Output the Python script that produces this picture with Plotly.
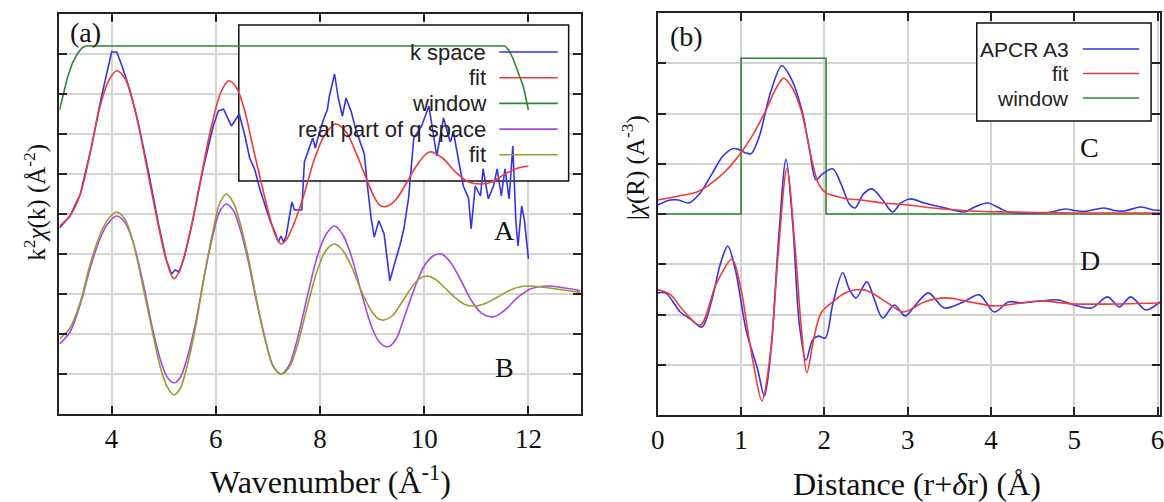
import plotly.graph_objects as go

# ---------------- data: panel (a) ----------------
k_window = [3.0, 3.08, 3.15, 3.25, 3.35, 3.43, 3.5, 11.55, 11.62, 11.7, 11.76, 11.83, 11.9, 12.0]
window_a = [7.6, 8.05, 8.4, 8.78, 9.02, 9.15, 9.2, 9.2, 9.1, 8.9, 8.7, 8.45, 8.2, 7.6]

k_blue = [3.0, 3.2, 3.4, 3.6, 3.8, 3.95, 4.0, 4.1, 4.2, 4.35, 4.5, 4.7, 4.9, 5.05, 5.15, 5.22, 5.3,
          5.4, 5.55, 5.75, 5.95, 6.05, 6.15, 6.3, 6.4, 6.45, 6.55, 6.65, 6.75, 6.85, 6.95, 7.05,
          7.15, 7.2, 7.25, 7.3, 7.35, 7.46, 7.51, 7.65, 7.7, 7.86, 7.91, 7.99, 8.09, 8.14, 8.18,
          8.28, 8.35, 8.43, 8.5, 8.6, 8.69, 8.77, 8.85, 8.9, 8.98, 9.04, 9.13, 9.23, 9.34, 9.44,
          9.53, 9.61, 9.7, 9.8, 9.95, 10.09, 10.24, 10.37, 10.5, 10.56, 10.75, 10.85, 10.9,
          10.98, 11.08, 11.13, 11.23, 11.33, 11.4, 11.48, 11.55, 11.63, 11.7, 11.76, 11.8,
          11.87, 11.92, 12.0]
a_blue = [4.65, 4.95, 5.5, 6.6, 7.9, 8.8, 9.05, 9.05, 8.7, 8.1, 7.35, 6.1, 4.75, 3.85, 3.5, 3.6, 3.55,
          3.95, 4.8, 6.1, 7.2, 7.58, 7.62, 7.2, 7.4, 7.5, 7.0, 6.4, 6.1, 5.6, 5.2, 4.8,
          4.5, 4.3, 4.45, 4.3, 4.45, 5.3, 5.1, 5.1, 6.3, 6.9, 6.65, 7.05, 7.45, 7.6, 7.95,
          8.5, 7.9, 7.45, 7.9, 7.55, 7.1, 6.8, 6.5, 5.83, 4.9, 4.42, 4.83, 4.5, 3.33, 3.8,
          4.2, 4.63, 5.4, 6.9, 7.2, 7.7, 6.45, 7.4, 6.8, 7.05, 5.7, 5.4, 4.63,
          5.7, 5.45, 6.13, 5.38, 5.7, 6.13, 5.45, 6.13, 5.38, 6.7, 4.8, 4.2,
          5.2, 4.88, 3.88]

k_fit = [3.0, 3.2, 3.4, 3.6, 3.8, 3.95, 4.1, 4.25, 4.4, 4.55, 4.7, 4.9, 5.05, 5.2, 5.35, 5.5, 5.7,
         5.9, 6.1, 6.25, 6.4, 6.55, 6.7, 6.85, 7.05, 7.15, 7.25, 7.35, 7.45, 7.65, 7.9, 8.1, 8.3,
         8.5, 8.7, 8.9, 9.05, 9.17, 9.3, 9.45, 9.65, 9.85, 10.1, 10.35, 10.6, 10.85, 11.08, 11.3,
         11.55, 11.8, 12.0]
a_fit = [4.7, 4.95, 5.5, 6.6, 7.8, 8.35, 8.58, 8.4, 7.85, 7.0, 6.0, 4.7, 3.85, 3.38, 3.75, 4.5, 5.8,
         7.1, 8.05, 8.33, 8.15, 7.6, 6.75, 5.9, 4.85, 4.45, 4.25, 4.35, 4.6, 5.3, 6.4, 7.0, 7.25,
         7.05, 6.5, 5.85, 5.4, 5.2, 5.2, 5.35, 5.75, 6.2, 6.55, 6.4, 6.05, 5.8, 5.75, 5.8,
         6.0, 6.15, 6.2]

k_q = [3.0, 3.2, 3.4, 3.6, 3.8, 3.95, 4.1, 4.25, 4.4, 4.6, 4.8, 4.95, 5.08, 5.2, 5.32, 5.45, 5.6,
       5.8, 5.95, 6.07, 6.2, 6.33, 6.45, 6.6, 6.8, 6.97, 7.1, 7.25, 7.4, 7.55, 7.75, 7.95, 8.12,
       8.28, 8.43, 8.6, 8.8, 9.0, 9.15, 9.3, 9.45, 9.6, 9.8, 10.0, 10.17, 10.33, 10.5, 10.7,
       10.9, 11.1, 11.33, 11.55, 11.8, 12.05, 12.33, 12.7, 13.0]
b_real = [1.75, 2.05, 2.75, 3.7, 4.45, 4.8, 4.95, 4.8, 4.35, 3.3, 2.05, 1.3, 0.9, 0.78, 0.92, 1.4, 2.2,
          3.6, 4.5, 5.05, 5.25, 5.1, 4.7, 3.95, 2.7, 1.75, 1.2, 1.0, 1.2, 1.8, 2.9, 3.95, 4.5,
          4.7, 4.5, 3.95, 3.0, 2.15, 1.78, 1.68, 1.85, 2.35, 3.1, 3.7, 3.95, 4.0, 3.8, 3.35,
          2.85, 2.52, 2.43, 2.6, 2.92, 3.13, 3.2, 3.15, 3.08]

k_qfit = [3.0, 3.2, 3.4, 3.6, 3.8, 3.95, 4.1, 4.25, 4.4, 4.6, 4.8, 4.95, 5.08, 5.2, 5.32, 5.45, 5.6,
          5.8, 5.95, 6.07, 6.2, 6.33, 6.45, 6.6, 6.8, 6.97, 7.1, 7.25, 7.4, 7.55, 7.75, 7.95, 8.12,
          8.28, 8.43, 8.6, 8.8, 9.0, 9.12, 9.23, 9.38, 9.55, 9.75, 9.9, 10.05, 10.2, 10.4, 10.6,
          10.78, 10.95, 11.15, 11.4, 11.65, 11.85, 12.0, 12.4, 13.0]
b_fit = [1.88, 2.15, 2.8, 3.8, 4.55, 4.9, 5.05, 4.88, 4.35, 3.2, 1.95, 1.1, 0.65, 0.48, 0.65, 1.2, 2.1,
         3.6, 4.6, 5.25, 5.5, 5.3, 4.85, 4.05, 2.75, 1.75, 1.2, 1.0, 1.15, 1.65, 2.65, 3.6, 4.1,
         4.25, 4.1, 3.7, 3.05, 2.55, 2.38, 2.35, 2.45, 2.75, 3.15, 3.38, 3.45, 3.38, 3.15, 2.9,
         2.74, 2.7, 2.75, 2.92, 3.1, 3.18, 3.2, 3.15, 3.04]

# ---------------- data: panel (b) ----------------
r_magn = [0.0, 0.15, 0.25, 0.37, 0.5, 0.65, 0.78, 0.9, 0.98, 1.05, 1.12, 1.22, 1.35, 1.49, 1.6, 1.73,
          1.82, 1.9, 1.98, 2.1, 2.2, 2.3, 2.37, 2.47, 2.57, 2.7, 2.82, 2.92, 3.03, 3.2, 3.45, 3.67,
          3.82, 3.96, 4.1, 4.21, 4.45, 4.69, 4.89, 5.0, 5.12, 5.36, 5.48, 5.6, 5.8, 5.95, 6.03]
c_magn = [4.18, 4.28, 4.28, 4.22, 4.4, 4.8, 5.15, 5.3, 5.28, 5.22, 5.2, 5.55, 6.4, 6.95, 6.7, 6.07,
          5.3, 4.68, 4.8, 4.9, 4.6, 4.2, 4.12, 4.4, 4.5, 4.28, 4.04, 4.22, 4.3, 4.22, 4.12, 4.04,
          4.15, 4.22, 4.12, 4.04, 4.02, 4.03, 4.1, 4.07, 4.05, 4.12, 4.07, 4.06, 4.14, 4.08, 4.07]

r_magn_fit = [0.0, 0.25, 0.47, 0.65, 0.83, 1.02, 1.15, 1.3, 1.42, 1.51, 1.6, 1.72, 1.85, 1.93, 2.02,
              2.15, 2.28, 2.44, 2.7, 3.0, 3.3, 3.59, 3.9, 4.18, 4.6, 5.0, 6.03]
c_magn_fit = [4.28, 4.36, 4.44, 4.62, 4.88, 5.27, 5.6, 6.07, 6.5, 6.7, 6.55, 6.07, 5.07, 4.6, 4.42,
              4.35, 4.3, 4.28, 4.22, 4.18, 4.12, 4.08, 4.05, 4.04, 4.03, 4.02, 4.02]

r_window = [0.0, 1.0, 1.0, 2.02, 2.02, 6.03]
c_window = [4.0, 4.0, 7.1, 7.1, 4.0, 4.0]

r_real = [0.0, 0.1, 0.27, 0.4, 0.53, 0.65, 0.75, 0.84, 0.93, 1.06, 1.14, 1.2, 1.28, 1.36, 1.45, 1.54,
          1.62, 1.7, 1.78, 1.86, 1.93, 2.01, 2.1, 2.22, 2.3, 2.38, 2.51, 2.6, 2.7, 2.84, 2.97, 3.1,
          3.25, 3.44, 3.67, 3.86, 4.04, 4.21, 4.38, 4.6, 4.81, 5.0, 5.21, 5.4, 5.54, 5.68, 5.86, 6.03]
d_real = [2.43, 2.42, 2.05, 1.9, 1.75, 2.3, 3.0, 3.36, 2.9, 1.69, 1.23, 0.9, 0.38, 1.3, 3.5, 5.09,
          3.8, 1.8, 1.09, 1.5, 1.57, 1.53, 2.2, 2.83, 2.5, 2.33, 2.65, 2.3, 1.93, 2.19, 1.97, 2.2,
          2.43, 2.13, 2.25, 2.39, 2.05, 2.25, 2.23, 2.27, 2.29, 2.19, 2.13, 2.35, 2.15, 2.35, 2.09, 2.25]

r_real_fit = [0.0, 0.15, 0.3, 0.51, 0.7, 0.89, 1.0, 1.06, 1.15, 1.25, 1.35, 1.45, 1.55, 1.65, 1.72,
              1.79, 1.87, 1.96, 2.1, 2.25, 2.48, 2.76, 2.95, 3.2, 3.46, 3.75, 4.06, 4.57, 5.0, 6.03]
d_real_fit = [2.49, 2.4, 2.09, 1.79, 2.6, 3.1, 2.5, 1.89, 1.0, 0.28, 1.2, 3.3, 4.9, 3.3, 1.8,
              0.84, 1.5, 2.03, 2.25, 2.43, 2.49, 2.23, 2.05, 2.25, 2.33, 2.25, 2.17, 2.27, 2.21, 2.23]

legend_a = ["k space", "fit", "window", "real part of q space", "fit"]
legend_b = ["APCR A3", "fit", "window"]

# ---------------- styles ----------------
BLUE = "#3434e6"
RED = "#f03a3a"
GREEN = "#2f862f"
PURPLE = "#a448e4"
OLIVE = "#9c9a2e"
SERIF = "Liberation Serif, Times New Roman, serif"
SANS = "Liberation Sans, Arial, sans-serif"

W, H = 1164, 502
# pixel geometry of the two plot areas
A_X0, A_X1, A_Y0, A_Y1 = 53, 579, 14, 414
B_X0, B_X1, B_Y0, B_Y1 = 657, 1164, 13, 415
A_XR, A_YR = (3, 13), (0, 10)
B_XR, B_YR = (0, 6.03), (0, 8)


def ax_a(px):
    return A_XR[0] + (px - A_X0) / (A_X1 - A_X0) * (A_XR[1] - A_XR[0])


def ay_a(py):
    return A_YR[0] + (A_Y1 - py) / (A_Y1 - A_Y0) * (A_YR[1] - A_YR[0])


def ax_b(px):
    return B_XR[0] + (px - B_X0) / (B_X1 - B_X0) * (B_XR[1] - B_XR[0])


def ay_b(py):
    return B_YR[0] + (B_Y1 - py) / (B_Y1 - B_Y0) * (B_YR[1] - B_YR[0])


def pxp(x):
    return x / W


def pyp(y):
    return 1 - y / H


fig = go.Figure()
lw = 1.6
fig.add_trace(go.Scatter(x=k_window, y=window_a, mode="lines", line=dict(color=GREEN, width=lw), xaxis="x", yaxis="y"))
fig.add_trace(go.Scatter(x=k_q, y=b_real, mode="lines", line=dict(color=PURPLE, width=lw, shape="spline", smoothing=1.0), xaxis="x", yaxis="y"))
fig.add_trace(go.Scatter(x=k_qfit, y=b_fit, mode="lines", line=dict(color=OLIVE, width=lw, shape="spline", smoothing=1.0), xaxis="x", yaxis="y"))
fig.add_trace(go.Scatter(x=k_blue, y=a_blue, mode="lines", line=dict(color=BLUE, width=lw), xaxis="x", yaxis="y"))
fig.add_trace(go.Scatter(x=k_fit, y=a_fit, mode="lines", line=dict(color=RED, width=lw, shape="spline", smoothing=1.0), xaxis="x", yaxis="y"))

fig.add_trace(go.Scatter(x=r_window, y=c_window, mode="lines", line=dict(color=GREEN, width=lw), xaxis="x2", yaxis="y2"))
fig.add_trace(go.Scatter(x=r_magn, y=c_magn, mode="lines", line=dict(color=BLUE, width=lw, shape="spline", smoothing=0.9), xaxis="x2", yaxis="y2"))
fig.add_trace(go.Scatter(x=r_magn_fit, y=c_magn_fit, mode="lines", line=dict(color=RED, width=lw, shape="spline", smoothing=0.9), xaxis="x2", yaxis="y2"))
fig.add_trace(go.Scatter(x=r_real, y=d_real, mode="lines", line=dict(color=BLUE, width=lw, shape="spline", smoothing=0.9), xaxis="x2", yaxis="y2"))
fig.add_trace(go.Scatter(x=r_real_fit, y=d_real_fit, mode="lines", line=dict(color=RED, width=lw, shape="spline", smoothing=0.9), xaxis="x2", yaxis="y2"))

axis_common = dict(
    showline=True, linecolor="#222", linewidth=2, mirror="ticks",
    ticks="inside", ticklen=8, tickwidth=2, tickcolor="#222",
    showgrid=True, gridcolor="#d4d4d4", gridwidth=1.5, zeroline=False,
    tickfont=dict(family=SERIF, size=27, color="#111"),
)

fig.update_layout(
    width=W, height=H, margin=dict(l=0, r=0, t=0, b=0),
    paper_bgcolor="white", plot_bgcolor="white", showlegend=False,
    xaxis=dict(domain=[pxp(A_X0), pxp(A_X1)], range=list(A_XR), tickvals=[4, 6, 8, 10, 12],
               anchor="y", ticklabelstandoff=0, ticklabeloverflow="allow", **axis_common),
    yaxis=dict(domain=[pyp(A_Y1), pyp(A_Y0)], range=list(A_YR), dtick=1, showticklabels=False,
               anchor="x", **axis_common),
    xaxis2=dict(domain=[pxp(B_X0), pxp(B_X1)], range=list(B_XR), tickvals=[0, 1, 2, 3, 4, 5, 6],
                anchor="y2", ticklabelstandoff=0, ticklabeloverflow="allow", **axis_common),
    yaxis2=dict(domain=[pyp(B_Y1), pyp(B_Y0)], range=list(B_YR), dtick=1, showticklabels=False,
                anchor="x2", **axis_common),
)

shapes = []
ann = []

# legend (a)
shapes.append(dict(type="rect", xref="x", yref="y", layer="between",
                   x0=ax_a(234), x1=ax_a(567), y0=ay_a(181), y1=ay_a(25),
                   fillcolor="white", line=dict(color="#111", width=1.5)))
cols_a = [BLUE, RED, GREEN, PURPLE, OLIVE]
for i, (name, c) in enumerate(zip(legend_a, cols_a)):
    yy = 52 + i * 25.7
    shapes.append(dict(type="line", xref="paper", yref="paper", layer="above",
                       x0=pxp(497), x1=pxp(556), y0=pyp(yy), y1=pyp(yy), line=dict(color=c, width=1.6)))
    ann.append(dict(text=name, x=pxp(486), y=pyp(yy), xref="paper", yref="paper",
                    xanchor="right", yanchor="middle", showarrow=False,
                    font=dict(family=SANS, size=22, color="#222")))

# legend (b)
shapes.append(dict(type="rect", xref="x2", yref="y2", layer="between",
                   x0=ax_b(979), x1=ax_b(1155), y0=ay_b(121), y1=ay_b(23),
                   fillcolor="white", line=dict(color="#111", width=1.5)))
cols_b = [BLUE, RED, GREEN]
for i, (name, c) in enumerate(zip(legend_b, cols_b)):
    yy = 49 + i * 24.5
    shapes.append(dict(type="line", xref="paper", yref="paper", layer="above",
                       x0=pxp(1086), x1=pxp(1143), y0=pyp(yy), y1=pyp(yy), line=dict(color=c, width=1.6)))
    ann.append(dict(text=name, x=pxp(1074), y=pyp(yy), xref="paper", yref="paper",
                    xanchor="right", yanchor="middle", showarrow=False,
                    font=dict(family=SANS, size=21, color="#222")))

# panel labels and curve labels
for txt, x, y in [("(a)", 79, 33), ("(b)", 686, 36), ("A", 502, 230), ("B", 502, 367),
                  ("C", 1093, 148), ("D", 1093, 260)]:
    ann.append(dict(text=txt, x=pxp(x), y=pyp(y), xref="paper", yref="paper",
                    xanchor="center", yanchor="middle", showarrow=False,
                    font=dict(family=SERIF, size=28, color="#111")))

# axis titles
ann.append(dict(text="Wavenumber (Å<sup>-1</sup>)", x=pxp(327), y=pyp(480), xref="paper", yref="paper",
                xanchor="center", yanchor="middle", showarrow=False,
                font=dict(family=SERIF, size=32, color="#111")))
ann.append(dict(text="Distance (r+<i>δ</i>r) (Å)", x=pxp(919), y=pyp(484), xref="paper", yref="paper",
                xanchor="center", yanchor="middle", showarrow=False,
                font=dict(family=SERIF, size=32, color="#111")))
ann.append(dict(text="k<sup>2</sup><i>χ</i>(k) (Å<sup>-2</sup>)", x=pxp(28), y=pyp(202), xref="paper", yref="paper",
                xanchor="center", yanchor="middle", textangle=-90, showarrow=False,
                font=dict(family=SERIF, size=25, color="#111")))
ann.append(dict(text="|<i>χ</i>(R) (A<sup>-3</sup>)", x=pxp(633), y=pyp(168), xref="paper", yref="paper",
                xanchor="center", yanchor="middle", textangle=-90, showarrow=False,
                font=dict(family=SERIF, size=25, color="#111")))

fig.update_layout(shapes=shapes, annotations=ann)
fig.write_html("out.html", config={"displayModeBar": False},
               post_script="document.body.style.margin='0';document.body.style.overflow='hidden';")
